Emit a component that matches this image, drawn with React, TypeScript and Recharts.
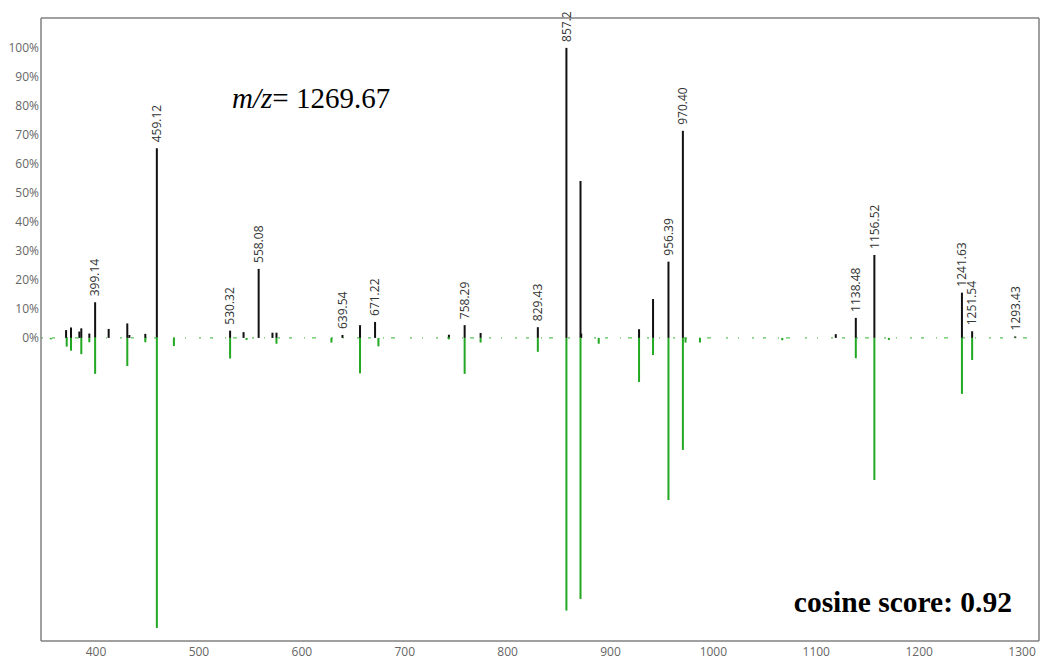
import React from 'react';
import { ComposedChart, Bar, XAxis, YAxis, ReferenceLine, LabelList } from 'recharts';

// Query spectrum (top, black): m/z and relative intensity (%)
const topMz = [370.9, 375.7, 383.8, 385.7, 393.5, 399.14, 412.3, 430.4, 432.4, 447.9, 459.12, 530.32, 543.4, 558.08, 571.5, 575.4, 639.54, 656.6, 671.22, 743.0, 758.29, 773.8, 829.43, 857.2, 870.9, 871.6, 927.8, 941.4, 956.39, 970.4, 1119.0, 1138.48, 1156.52, 1241.63, 1251.54, 1293.43];
const topIntensity = [2.7, 3.6, 2.2, 3.3, 1.5, 12.3, 3.1, 5.0, 1.0, 1.4, 65.4, 2.5, 2.0, 23.8, 1.8, 1.8, 1.0, 4.4, 5.5, 1.1, 4.4, 1.7, 3.7, 100, 54.1, 1.5, 3.0, 13.4, 26.3, 71.4, 1.3, 6.9, 28.6, 15.6, 2.3, 0.5];

// Reference spectrum (bottom, green): m/z and relative intensity (%)
const bottomMz = [356.0, 371.5, 375.7, 385.7, 393.5, 399.14, 430.4, 447.9, 459.12, 475.7, 530.32, 546.3, 575.4, 628.8, 656.6, 674.5, 743.0, 758.29, 773.8, 829.43, 857.2, 870.9, 888.6, 927.8, 941.4, 956.39, 970.4, 973.0, 987.0, 1067.0, 1138.48, 1156.52, 1170.6, 1241.63, 1251.54];
const bottomIntensity = [0.5, 3.0, 4.4, 5.6, 1.5, 12.4, 9.7, 1.5, 100, 2.8, 7.1, 0.7, 2.0, 1.6, 12.2, 2.9, 0.5, 12.4, 1.6, 4.8, 94, 90, 2.0, 15.2, 5.9, 55.9, 38.6, 1.6, 1.6, 0.8, 7.0, 49.0, 0.7, 19.3, 7.6];

// Annotated peaks
const labelMz = [399.14, 459.12, 530.32, 558.08, 639.54, 671.22, 758.29, 829.43, 857.2, 956.39, 970.4, 1138.48, 1156.52, 1241.63, 1251.54, 1293.43];
const labelText = ['399.14', '459.12', '530.32', '558.08', '639.54', '671.22', '758.29', '829.43', '857.2', '956.39', '970.40', '1138.48', '1156.52', '1241.63', '1251.54', '1293.43'];

const xTicks = [400, 500, 600, 700, 800, 900, 1000, 1100, 1200, 1300];
const yTicks = [0, 10, 20, 30, 40, 50, 60, 70, 80, 90, 100];

const X_DOMAIN: [number, number] = [346.5, 1316.5];
const Y_DOMAIN: [number, number] = [-104.5, 110.3];

type Row = { mz: number; top: number; bottom: number; label?: string };

const buildData = (): Row[] => {
  const map = new Map<number, Row>();
  const get = (mz: number) => {
    if (!map.has(mz)) map.set(mz, { mz, top: 0, bottom: 0 });
    return map.get(mz)!;
  };
  topMz.forEach((mz, i) => { get(mz).top = topIntensity[i]; });
  bottomMz.forEach((mz, i) => { get(mz).bottom = -bottomIntensity[i]; });
  labelMz.forEach((mz, i) => { get(mz).label = labelText[i]; });
  return Array.from(map.values()).sort((a, b) => a.mz - b.mz);
};

const data = buildData();

const makeStick = (color: string, w: number) => (props: any) => {
  const { x, y, width, height } = props;
  if (x == null || y == null || !height) return <g />;
  const cx = Number(x) + Number(width) / 2;
  const y0 = Math.min(Number(y), Number(y) + Number(height));
  const h = Math.abs(Number(height));
  return <rect x={cx - w / 2} y={y0} width={w} height={h} fill={color} />;
};

const TopStick = makeStick('#111111', 2);
const BottomStick = makeStick('#22a822', 2);

const PeakLabel = (props: any) => {
  const { x, y, width, value } = props;
  if (!value) return null;
  const cx = Number(x) + Number(width) / 2;
  const top = Number(y);
  return (
    <text
      x={cx}
      y={top}
      dx={6}
      dy={4.3}
      transform={`rotate(-90 ${cx} ${top})`}
      textAnchor="start"
      fontFamily="'Open Sans', sans-serif"
      fontSize={12}
      fill="#333"
    >
      {value}
    </text>
  );
};

const axisColor = '#808080';

export default function App() {
  return (
    <div style={{ position: 'absolute', left: 0, top: 0, width: 1041, height: 661 }}>
      <ComposedChart
        width={1041}
        height={661}
        data={data}
        stackOffset="sign"
        margin={{ top: 18, right: 2, left: 0, bottom: 0 }}
      >
        <XAxis
          dataKey="mz"
          type="number"
          domain={X_DOMAIN}
          allowDataOverflow
          ticks={xTicks}
          height={20}
          tickSize={0}
          tickMargin={6}
          stroke={axisColor}
          strokeWidth={1.5}
          tick={{ fill: '#666', fontSize: 12, fontFamily: "'Open Sans', sans-serif" }}
        />
        <YAxis
          type="number"
          domain={Y_DOMAIN}
          allowDataOverflow
          ticks={yTicks}
          width={41}
          tickSize={0}
          tickMargin={2}
          stroke={axisColor}
          strokeWidth={1.5}
          tickFormatter={(v: number) => `${v}%`}
          tick={{ fill: '#666', fontSize: 12, fontFamily: "'Open Sans', sans-serif" }}
        />
        <ReferenceLine y={0} stroke="#2fb52f" strokeWidth={1} strokeDasharray="2 9 3 12 1 7 4 15 2 10 1 13" />
        <Bar dataKey="top" stackId="s" fill="#111" barSize={2} shape={TopStick} isAnimationActive={false}>
          <LabelList dataKey="label" content={PeakLabel} />
        </Bar>
        <Bar dataKey="bottom" stackId="s" fill="#22a822" barSize={2} shape={BottomStick} isAnimationActive={false} />
        <ReferenceLine y={Y_DOMAIN[1]} stroke={axisColor} strokeWidth={1.5} />
        <ReferenceLine x={X_DOMAIN[1]} stroke={axisColor} strokeWidth={1.5} />
      </ComposedChart>
      <svg
        width={1041}
        height={661}
        style={{ position: 'absolute', left: 0, top: 0, pointerEvents: 'none' }}
      >
        <text x={232} y={108} fontFamily="'Liberation Serif', 'Times New Roman', serif" fontSize={29} fill="#000">
          <tspan fontStyle="italic">m/z</tspan>= 1269.67
        </text>
        <text
          x={1012}
          y={612}
          textAnchor="end"
          fontFamily="'Liberation Serif', 'Times New Roman', serif"
          fontSize={29.5}
          fontWeight="bold"
          fill="#000"
        >
          cosine score: 0.92
        </text>
      </svg>
    </div>
  );
}
